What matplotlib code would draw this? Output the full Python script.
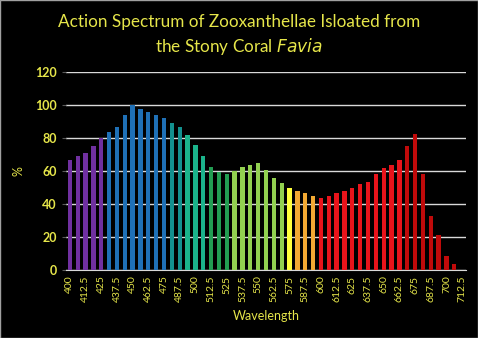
import matplotlib
matplotlib.use('Agg')
import matplotlib.pyplot as plt
import numpy as np

# wavelength categories (nm) and relative photosynthetic response (%)
wavelengths = [400, 406.25, 412.5, 418.75, 425, 431.25, 437.5, 443.75, 450, 456.25,
               462.5, 468.75, 475, 481.25, 487.5, 493.75, 500, 506.25, 512.5, 518.75,
               525, 531.25, 537.5, 543.75, 550, 556.25, 562.5, 568.75, 575, 581.25,
               587.5, 593.75, 600, 606.25, 612.5, 618.75, 625, 631.25, 637.5, 643.75,
               650, 656.25, 662.5, 668.75, 675, 681.25, 687.5, 693.75, 700, 706.25, 712.5]
response = [67, 69, 71, 75, 80, 84, 87, 94, 100, 98,
            96, 94, 92, 89, 87, 82, 76, 69, 62.5, 59.5,
            58, 60, 62.5, 64, 65, 61, 56, 53, 50, 48,
            47, 45, 44, 45, 47, 48, 50, 52, 53.5, 58,
            62, 64, 67, 75, 82.5, 58, 33, 21, 8.5, 3.5, 0]

# bar colours, one band per run of wavelengths
bands = [('#7030a0', 5), ('#1f70b6', 8), ('#13918f', 2), ('#1bb38b', 3),
         ('#229d52', 3), ('#92d050', 7), ('#ffff3c', 1), ('#f2a933', 3),
         ('#e8141b', 11), ('#c00a0a', 8)]
colors = []
for c, n in bands:
    colors += [c] * n

txt = '#e6e64a'
plt.rcParams['font.family'] = ['Lato', 'DejaVu Sans']

fig = plt.figure(figsize=(4.78, 3.38), dpi=100)
fig.set_facecolor('black')
ax = fig.add_axes([0.138, 0.201, 0.837, 0.585])
ax.set_facecolor('black')

x = np.arange(len(wavelengths))
ax.bar(x, response, width=0.55, color=colors, zorder=3)

ax.set_ylim(0, 120)
ax.set_yticks(range(0, 121, 20))
ax.set_xlim(-0.5, len(wavelengths) - 0.5)
ax.set_xticks(x[::2])
ax.set_xticklabels(['%g' % w for w in wavelengths[::2]], rotation=90, fontsize=7.5, color=txt)
ax.tick_params(axis='y', colors='#595959', labelcolor=txt, labelsize=9, length=3)
ax.tick_params(axis='x', length=0, pad=4)
for lab in ax.get_yticklabels():
    lab.set_fontweight('bold')

ax.grid(axis='y', color='#d9d9d9', linewidth=1, zorder=0)
for s in ['top', 'right', 'left']:
    ax.spines[s].set_visible(False)
ax.spines['bottom'].set_color('#d9d9d9')

ax.set_ylabel('%', color=txt, fontsize=9, labelpad=8)
ax.set_xlabel('Wavelength', color=txt, fontsize=9, labelpad=6)

fig.text(0.5, 0.935, 'Action Spectrum of Zooxanthellae Isloated from', ha='center', va='center',
         color=txt, fontsize=12.3)
fig.text(0.5, 0.862, 'the Stony Coral $\\it{Favia}$', ha='center', va='center',
         color=txt, fontsize=12.3)

fig.patches.append(plt.Rectangle((0, 0), 1, 1, transform=fig.transFigure, fill=False,
                                 edgecolor='#a0a0a0', linewidth=1))

plt.savefig('out.png', dpi=100, facecolor='black')
